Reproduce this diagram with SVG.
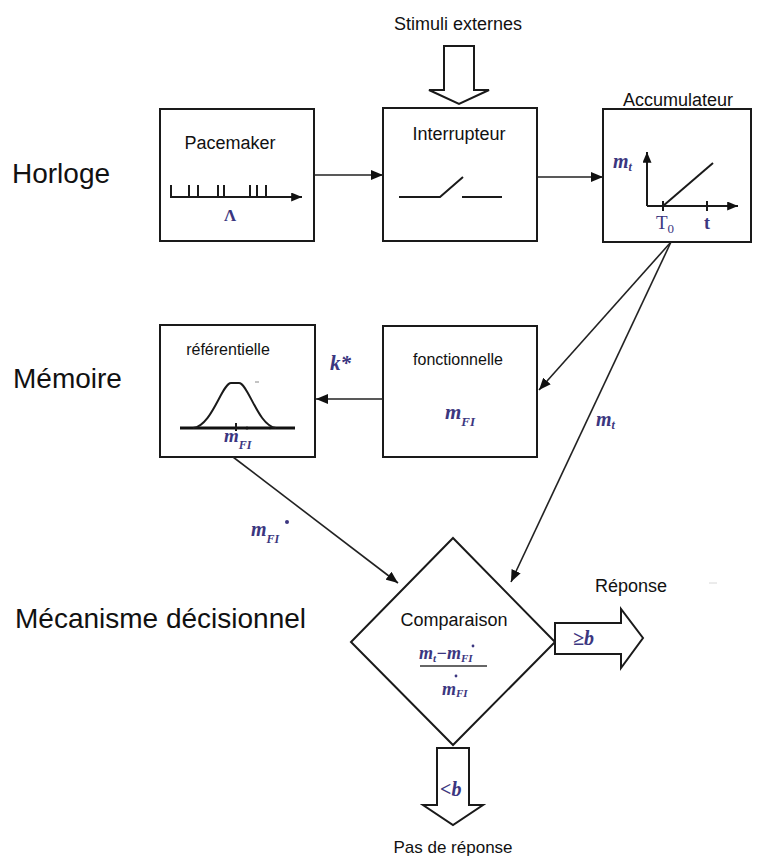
<svg xmlns="http://www.w3.org/2000/svg" width="757" height="861" viewBox="0 0 757 861">
<style>
.box{fill:#fff;stroke:#1a1a1a;stroke-width:2}
.ln{stroke:#222;stroke-width:1.6;fill:none}
.thk{stroke:#1a1a1a;stroke-width:2;fill:none}
.blk{fill:#fff;stroke:#1a1a1a;stroke-width:2;stroke-linejoin:miter}
.lbl{font-family:"Liberation Sans",Arial,sans-serif;fill:#111}
.big{font-size:28px}
.mid{font-size:18px}
.sm{font-size:16px}
.math{font-family:"Liberation Serif","Times New Roman",serif;font-style:italic;font-weight:bold;fill:#3b3680}
.dot{fill:#3b3680}
</style>
<defs>
<marker id="ah" viewBox="0 0 12 10" refX="12" refY="5" markerWidth="12" markerHeight="10" markerUnits="userSpaceOnUse" orient="auto">
<path d="M0,0 L12,5 L0,10 z" fill="#111"/>
</marker>
<marker id="ahs" viewBox="0 0 12 10" refX="12" refY="5" markerWidth="11" markerHeight="9" markerUnits="userSpaceOnUse" orient="auto">
<path d="M0,0 L12,5 L0,10 z" fill="#111"/>
</marker>
</defs>

<g id="labels">
<text class="lbl big" x="12" y="183">Horloge</text>
<text class="lbl big" x="13" y="388">Mémoire</text>
<text class="lbl big" x="15" y="628">Mécanisme décisionnel</text>
</g>

<g id="stimuli">
<text class="lbl mid" x="458" y="30" text-anchor="middle">Stimuli  externes</text>
<polygon class="blk" points="444,46 474,46 474,90 489,90 459,104 429,90 444,90"/>
</g>

<g id="pacemaker">
<rect class="box" x="160" y="109" width="154" height="132"/>
<text class="lbl mid" x="230" y="149" text-anchor="middle">Pacemaker</text>
<line class="thk" x1="170" y1="197" x2="302" y2="197" marker-end="url(#ahs)"/>
<path class="thk" d="M171,185V197 M189,185V197 M198,185V197 M218,185V197 M224,185V197 M250,185V197 M257,185V197 M266,185V197"/>
<text class="math" x="230" y="221" font-size="17" text-anchor="middle" style="font-style:normal">Λ</text>
</g>

<g id="interrupteur">
<rect class="box" x="383" y="108" width="154" height="133"/>
<text class="lbl mid" x="459" y="140" text-anchor="middle">Interrupteur</text>
<path class="thk" d="M399,197 H440 L463,177 M462,197 H502"/>
</g>

<g id="accumulateur">
<rect class="box" x="603" y="109" width="148" height="133"/>
<text class="lbl mid" x="678" y="106" text-anchor="middle">Accumulateur</text>
<line class="thk" x1="647" y1="206" x2="647" y2="152" marker-end="url(#ahs)"/>
<line class="thk" x1="647" y1="206" x2="738" y2="206" marker-end="url(#ahs)"/>
<line class="thk" x1="663" y1="206" x2="713" y2="163"/>
<path class="thk" d="M663,201V211 M707,201V211"/>
<text class="math" x="613" y="168" font-size="20">m<tspan font-size="12" dy="3">t</tspan></text>
<text class="math" x="656" y="229" font-size="19" style="font-style:normal;font-weight:normal">T<tspan font-size="13" dy="4">0</tspan></text>
<text class="math" x="707" y="229" font-size="18" text-anchor="middle" style="font-style:normal">t</text>
</g>

<g id="fonctionnelle">
<rect class="box" x="383" y="326" width="154" height="131"/>
<text class="lbl sm" x="458" y="365" text-anchor="middle">fonctionnelle</text>
<text class="math" x="445" y="419" font-size="21">m<tspan font-size="13" dy="7">FI</tspan></text>
</g>

<g id="referentielle">
<rect class="box" x="160" y="325" width="155" height="132"/>
<text class="lbl sm" x="228" y="355" text-anchor="middle">référentielle</text>
<line x1="180" y1="428" x2="295" y2="428" stroke="#111" stroke-width="3"/>
<path class="thk" d="M193,428 C212,426 222,383 231,383 L239,383 C248,383 258,426 276,428"/>
<path class="thk" d="M236,423V431"/>
<circle cx="247" cy="428" r="1.5" fill="#111"/>
<circle cx="270" cy="428" r="1.2" fill="#111"/>
<line x1="255" y1="382" x2="259" y2="382" stroke="#888" stroke-width="1"/>
<text class="math" x="224" y="442" font-size="19">m<tspan font-size="12" dy="7">FI</tspan></text>
</g>

<g id="comparaison">
<polygon class="blk" points="453,538 555,642 453,745 351,642"/>
<text class="lbl mid" x="454" y="626" text-anchor="middle">Comparaison</text>
<text class="math" x="419" y="659" font-size="18">m<tspan font-size="11" dy="3">t</tspan><tspan dy="-3">−m</tspan><tspan font-size="11" dy="3">FI</tspan></text>
<circle class="dot" cx="473" cy="646" r="1.4"/>
<line x1="420" y1="666" x2="487" y2="666" stroke="#333" stroke-width="1.6"/>
<text class="math" x="442" y="695" font-size="18">m<tspan font-size="11" dy="2">FI</tspan></text>
<circle class="dot" cx="456" cy="676" r="1.4"/>
</g>

<g id="reponse">
<polygon class="blk" points="555,623 621,623 621,609 643,638 621,668 621,654 555,654"/>
<text class="math" x="573" y="645" font-size="20">≥<tspan>b</tspan></text>
<text class="lbl mid" x="631" y="592" text-anchor="middle">Réponse</text>
<line x1="709" y1="583" x2="717" y2="583" stroke="#d8d8d8" stroke-width="1"/>
</g>

<g id="pas-de-reponse">
<polygon class="blk" points="437,748 469,748 469,805 483,805 453,825 423,805 437,805"/>
<text class="math" x="440" y="796" font-size="20">&lt;<tspan>b</tspan></text>
<text class="lbl" x="453" y="853" font-size="17" text-anchor="middle">Pas de réponse</text>
</g>

<g id="connectors">
<line class="ln" x1="314" y1="175" x2="383" y2="175" marker-end="url(#ah)"/>
<line class="ln" x1="537" y1="177" x2="603" y2="177" marker-end="url(#ah)"/>
<line class="ln" x1="671" y1="242" x2="539" y2="390" marker-end="url(#ah)"/>
<line class="ln" x1="671" y1="242" x2="511" y2="582" marker-end="url(#ah)"/>
<line class="ln" x1="383" y1="399" x2="316" y2="399" marker-end="url(#ah)"/>
<line class="ln" x1="233" y1="457" x2="398" y2="583" marker-end="url(#ah)"/>
<text class="math" x="330" y="370" font-size="21">k*</text>
<text class="math" x="596" y="426" font-size="20">m<tspan font-size="12" dy="3">t</tspan></text>
<text class="math" x="251" y="536" font-size="20">m<tspan font-size="12" dy="7">FI</tspan></text>
<circle class="dot" cx="287" cy="522" r="2"/>
</g>
</svg>
